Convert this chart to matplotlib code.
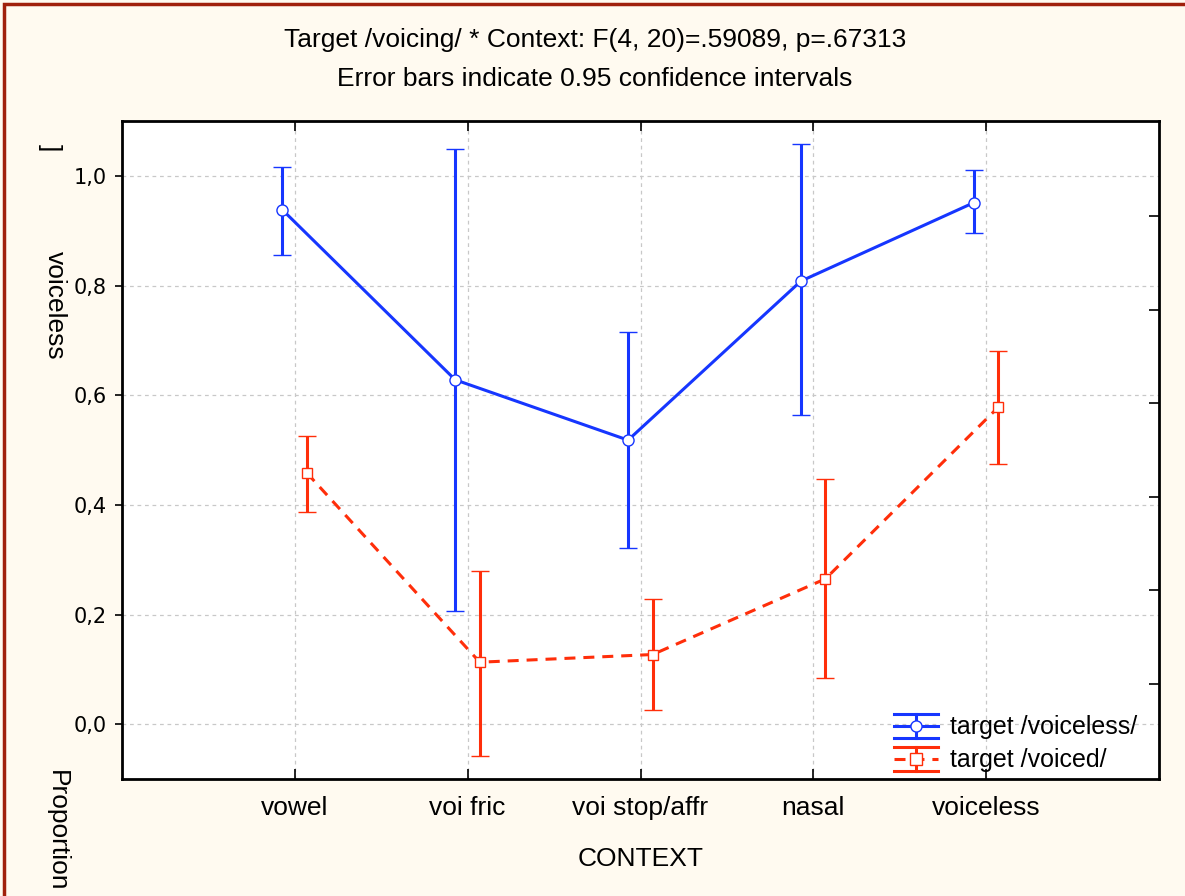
import numpy as np
import matplotlib
matplotlib.use('Agg')
from matplotlib import pyplot as plt
from matplotlib.lines import Line2D
from matplotlib.patches import Rectangle
from matplotlib.legend_handler import HandlerBase

plt.rcParams['font.family'] = ['Liberation Sans', 'DejaVu Sans']

# data (means and 0.95 CI ends)
categories = ['vowel', 'voi fric', 'voi stop/affr', 'nasal', 'voiceless']
vl_mean = [0.938, 0.628, 0.518, 0.808, 0.951]
vl_low = [0.855, 0.206, 0.322, 0.564, 0.896]
vl_high = [1.016, 1.049, 0.715, 1.058, 1.010]
vd_mean = [0.458, 0.113, 0.127, 0.265, 0.578]
vd_low = [0.387, -0.058, 0.025, 0.085, 0.475]
vd_high = [0.525, 0.279, 0.228, 0.447, 0.680]
series_names = ['target /voiceless/', 'target /voiced/']
yticks = [0.0, 0.2, 0.4, 0.6, 0.8, 1.0]
ytick_labels = ['0,0', '0,2', '0,4', '0,6', '0,8', '1,0']
right_ticks = [0.073, 0.244, 0.415, 0.585, 0.756, 0.927]

blue = '#1636ff'
red = '#ff2e0a'
cream = '#fffaf0'
LW = 2.2
FS = 19  # main text size
DASH = (0, (3.6, 2.6))


class LegendKey:
    def __init__(self, color, ls, marker):
        self.color = color
        self.ls = ls
        self.marker = marker


#legend key: line + marker with caps spanning the whole key (Statistica look)
class ErrKeyHandler(HandlerBase):
    def create_artists(self, legend, orig, xd, yd, w, h, fontsize, trans):
        x0, x1 = -xd, -xd + w
        ym = -yd + h / 2
        y0, y1 = -yd, -yd + h
        xm = (x0 + x1) / 2
        arts = [
            Line2D([x0, x1], [ym, ym], color=orig.color, ls=orig.ls, lw=LW),
            Line2D([xm, xm], [y0, y1], color=orig.color, lw=LW),
            Line2D([x0, x1], [y0, y0], color=orig.color, lw=LW),
            Line2D([x0, x1], [y1, y1], color=orig.color, lw=LW),
            Line2D([xm], [ym], marker=orig.marker, ms=8, mfc='white',
                   mec=orig.color, mew=1.0, ls='none'),
        ]
        for a in arts:
            a.set_transform(trans)
        return arts


fig = plt.figure(figsize=(11.85, 8.96), dpi=100)
fig.patch.set_facecolor(cream)
ax = fig.add_axes([122/1185, 1-779/896, (1159-122)/1185, (779-121)/896])
ax.set_facecolor('white')

x = np.arange(len(categories))
vl_mean = np.array(vl_mean)
vd_mean = np.array(vd_mean)
vl_err = [vl_mean - np.array(vl_low), np.array(vl_high) - vl_mean]
vd_err = [vd_mean - np.array(vd_low), np.array(vd_high) - vd_mean]

ax.errorbar(x - 0.072, vl_mean, yerr=vl_err, color=blue, lw=LW, elinewidth=LW,
            capsize=6.5, capthick=LW, marker='o', ms=8, mfc='white', mec=blue,
            mew=1.0, zorder=4)
ax.errorbar(x + 0.07, vd_mean, yerr=vd_err, color=red, lw=LW, elinewidth=LW,
            capsize=6.5, capthick=LW, marker='s', ms=7.5, mfc='white', mec=red,
            mew=1.0, ls=DASH, zorder=4)

ax.set_xlim(-1, 5)
ax.set_ylim(-0.1, 1.1)
ax.set_xticks(x)
ax.set_xticklabels(categories, fontsize=FS)
ax.set_yticks(yticks)
ax.set_yticklabels(ytick_labels, fontsize=15, family='DejaVu Sans')
ax.tick_params(axis='y', direction='out', length=5, width=1.2, pad=6, left=True, right=False)
ax.tick_params(axis='x', direction='in', length=7, width=1.2, pad=12, top=True, bottom=True)
ax.grid(True, color='#c8c8c8', lw=0.9, ls=(0, (3, 3)))
ax.set_axisbelow(True)
for s in ax.spines.values():
    s.set_linewidth(2)
ax.set_xlabel('CONTEXT', fontsize=FS, labelpad=20)

# separate right axis ticks, no labels
ax2 = ax.twinx()
ax2.set_ylim(ax.get_ylim())
ax2.set_yticks(right_ticks)
ax2.set_yticklabels([])
ax2.tick_params(axis='y', direction='in', length=7, width=1.2)
for s in ax2.spines.values():
    s.set_visible(False)

keys = [LegendKey(blue, '-', 'o'), LegendKey(red, DASH, 's')]
ax.legend(keys, series_names, handler_map={LegendKey: ErrKeyHandler()},
          loc='lower right', frameon=False, prop={'family': 'Liberation Sans', 'size': 18},
          handlelength=1.75, handleheight=1.1, handletextpad=0.5, labelspacing=0.3,
          borderaxespad=0.3, bbox_to_anchor=(0.996, -0.016))

# titles
fig.text(0.502, 1-40/896, 'Target /voicing/ * Context: F(4, 20)=.59089, p=.67313',
         ha='center', va='center', fontsize=FS)
fig.text(0.502, 1-79/896, 'Error bars indicate 0.95 confidence intervals',
         ha='center', va='center', fontsize=FS)

# broken y label pieces as they appear in the original
fig.text(50/1185, 1-148/896, ']', rotation=-90, ha='center', va='center', fontsize=FS)
fig.text(55/1185, 1-305/896, 'voiceless', rotation=-90, ha='center', va='center', fontsize=FS)
fig.text(57/1185, 1-770/896, 'Proportion', rotation=-90, ha='center', va='top', fontsize=FS)

# dark red frame around the plot window (cut at right and bottom)
fig.add_artist(Rectangle((4/1185, -0.5), 2, 0.5 + 1 - 4/896, fill=False,
                         edgecolor='#a0200c', lw=2.5, transform=fig.transFigure))

plt.savefig('out.png', dpi=100, facecolor=fig.get_facecolor())
